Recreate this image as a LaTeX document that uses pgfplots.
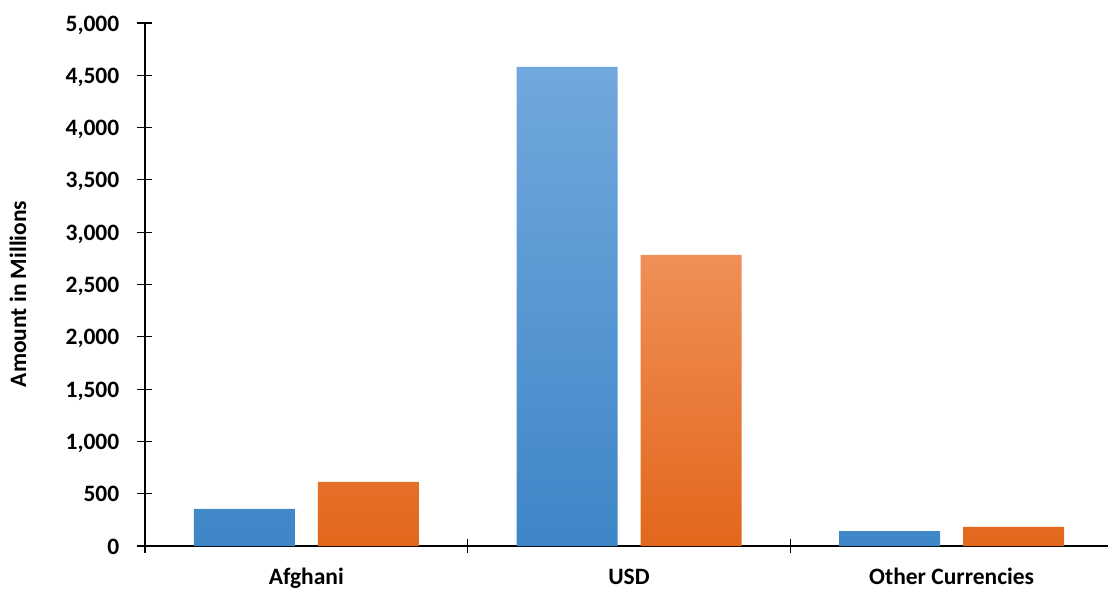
\documentclass[border=0pt]{standalone}
\usepackage{fontspec}
\setmainfont{Carlito}
\usepackage{pgfplots}
\pgfplotsset{compat=1.18}
\definecolor{btop}{HTML}{71A8DD}
\definecolor{bbot}{HTML}{3E86C7}
\definecolor{otop}{HTML}{F08F57}
\definecolor{obot}{HTML}{E2671B}
\begin{document}
\begin{tikzpicture}
\begin{axis}[
  scale only axis,
  width=963pt, height=523pt,
  xmin=-0.5, xmax=2.4845,
  ymin=0, ymax=5000,
  axis lines*=left,
  axis line style={black, line width=1.1pt},
  xtick={0,1,2},
  xticklabels={Afghani, USD, Other Currencies},
  minor xtick={-0.5,0.5,1.5},
  major x tick style={draw=none},
  minor x tick style={black, line width=1.1pt},
  minor tick length=14pt,
  ytick={0,500,...,5000},
  y tick style={black, line width=1.1pt},
  major tick length=15pt,
  tick align=center,
  scaled y ticks=false,
  /pgf/number format/assume math mode=true,
  yticklabel={\pgfmathprintnumber[fixed,precision=0,1000 sep={,}]{\tick}},
  yticklabel style={anchor=base east, inner sep=0pt, xshift=-18pt, yshift=-8pt, font=\fontsize{23.5}{27}\selectfont\bfseries},
  xticklabel style={anchor=base, inner sep=0pt, yshift=-30.5pt, font=\fontsize{23.5}{27}\selectfont\bfseries},
  ylabel={Amount in Millions},
  every axis y label/.style={at={(axis description cs:-0.1319,0.4818)}, rotate=90, anchor=center, font=\fontsize{23.5}{27}\selectfont\bfseries},
  clip=false,
]
\addplot[ybar, bar width=101pt, bar shift=-62pt, draw=none, top color=btop, bottom color=bbot]
  coordinates {(0,354) (1,4580) (2,143)};
\addplot[ybar, bar width=101pt, bar shift=62pt, draw=none, top color=otop, bottom color=obot]
  coordinates {(0,612) (1,2783) (2,182)};
\end{axis}
\pgfresetboundingbox
\path (-145pt,-44pt) rectangle (963pt,546pt);
\end{tikzpicture}
\end{document}
